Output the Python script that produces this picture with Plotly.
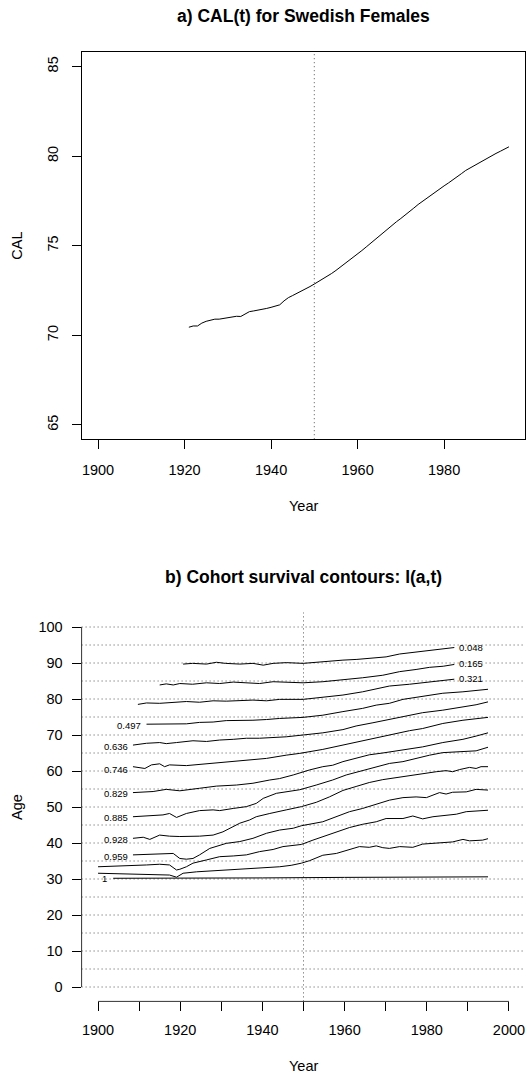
import plotly.graph_objects as go

# ---------------- data ----------------
cal_years = list(range(1921, 1996))
cal_values = [
    70.45, 70.52, 70.52, 70.68, 70.78, 70.86, 70.90, 70.90, 70.95, 70.98,
    71.04, 71.06, 71.05, 71.20, 71.32, 71.36, 71.40, 71.43, 71.50, 71.56,
    71.62, 71.70, 71.92, 72.10, 72.22, 72.34, 72.45, 72.57, 72.72, 72.86,
    73.00, 73.14, 73.30, 73.45, 73.62, 73.80, 73.97, 74.15, 74.35, 74.54,
    74.73, 74.93, 75.13, 75.38, 75.58, 75.78, 75.97, 76.15, 76.34, 76.52,
    76.73, 76.92, 77.10, 77.30, 77.48, 77.67, 77.85, 78.02, 78.18, 78.34,
    78.50, 78.66, 78.84, 79.02, 79.20, 79.34, 79.48, 79.62, 79.75, 79.90,
    80.04, 80.15, 80.27, 80.40, 80.52,
]

# cohort survival contour lines l(a,t): year / age pairs
c048_year = [1920.7, 1923, 1926.4, 1928.8, 1931, 1934.5, 1937.7, 1940.2, 1942.6, 1945.8, 1949.9,
             1954.7, 1959.6, 1963, 1966, 1970.1, 1973.4, 1977.4, 1980.7, 1984, 1986.7]
c048_age = [89.7, 89.9, 89.7, 90.2, 89.9, 89.7, 89.9, 89.4, 89.9, 90.1, 89.9,
            90.4, 90.8, 91.0, 91.3, 91.7, 92.5, 93.1, 93.6, 93.9, 94.3]

c165_year = [1915, 1916.6, 1918.3, 1919.9, 1923, 1926.4, 1929.6, 1932.9, 1936, 1939.3, 1942.6,
             1945.8, 1949.9, 1954.7, 1959.6, 1964.4, 1969.3, 1973.4, 1977.4, 1980.7, 1984, 1986.7]
c165_age = [83.9, 84.2, 83.9, 84.3, 84.1, 84.5, 84.3, 84.7, 84.5, 84.3, 84.8,
            84.6, 84.5, 84.8, 85.3, 85.9, 86.6, 87.6, 88.2, 88.8, 89.1, 89.6]

c321_year = [1909.7, 1911.8, 1915, 1918.3, 1921.5, 1924.7, 1928, 1931.2, 1934.5, 1937.7, 1941,
             1944.2, 1949.9, 1954.7, 1959.6, 1964.4, 1967.7, 1970.9, 1975.8, 1979, 1982.3, 1986.7]
c321_age = [78.5, 78.9, 78.8, 79.1, 79.3, 79.1, 79.5, 79.4, 79.5, 79.7, 79.5,
            79.9, 79.9, 80.4, 81.1, 82.0, 82.9, 83.6, 84.1, 84.5, 85.1, 85.5]

c497_year = [1911.8, 1915, 1918.3, 1921.5, 1924.7, 1928, 1931.2, 1934.5, 1937.7, 1941, 1944.2,
             1949.9, 1954.7, 1959.6, 1964.4, 1967.7, 1970.9, 1974.2, 1979, 1983.9, 1988.8, 1994.9]
c497_age = [73.0, 73.0, 73.2, 73.1, 73.5, 73.6, 74.0, 74.0, 74.1, 74.3, 74.6,
            74.9, 75.5, 76.5, 77.4, 78.3, 78.8, 79.9, 80.8, 81.6, 82.0, 82.7]

c636_year = [1908.5, 1911.8, 1915, 1916.6, 1919.1, 1921.5, 1923.1, 1926.4, 1929.6, 1932.9, 1936.1,
             1939.3, 1942.6, 1945.8, 1949.9, 1954.7, 1959.6, 1962.8, 1966.9, 1970.9, 1975.8, 1979,
             1983.9, 1988.8, 1992, 1994.9]
c636_age = [67.2, 67.7, 67.9, 67.6, 67.9, 68.1, 68.4, 68.2, 68.6, 68.8, 69.1,
            69.1, 69.3, 69.5, 70.0, 70.6, 71.5, 72.5, 73.4, 74.3, 75.3, 76.2,
            76.9, 77.7, 78.4, 79.2]

c746_year = [1908.5, 1911.4, 1913, 1915, 1916.2, 1917.4, 1921.5, 1924.7, 1928, 1932.9, 1936.1,
             1941, 1945.8, 1949.1, 1954.7, 1959.6, 1962.8, 1966.9, 1970.9, 1975.8, 1979, 1983.9,
             1988.8, 1992, 1994.9]
c746_age = [61.2, 60.7, 61.7, 62.0, 61.2, 61.7, 61.5, 61.8, 62.1, 62.6, 62.9,
            63.5, 64.4, 64.9, 66.0, 67.2, 68.1, 69.1, 70.0, 71.2, 71.8, 73.2,
            74.1, 74.5, 74.9]

c829_year = [1908.5, 1913.4, 1916.6, 1919.9, 1924.7, 1928.8, 1933.7, 1937.7, 1941.8, 1944.2, 1947.5,
             1949.9, 1951.5, 1954.7, 1957.1, 1959.6, 1962.8, 1966, 1969.3, 1972.5, 1975.8, 1979,
             1983.9, 1988.8, 1992, 1994.9]
c829_age = [54.0, 54.3, 54.9, 54.5, 55.2, 55.8, 56.1, 56.6, 57.5, 57.9, 58.9,
            59.8, 60.3, 61.2, 61.6, 62.6, 63.5, 64.5, 65.0, 65.5, 66.0, 66.7,
            67.9, 68.8, 69.7, 70.6]

c885_year = [1908.5, 1915.8, 1917.4, 1919.1, 1921.5, 1924.7, 1928, 1929.6, 1932.9, 1936.1, 1938.5,
             1940.2, 1943.4, 1949.1, 1953.1, 1957.1, 1960.4, 1965.3, 1967.7, 1970.9, 1974.2,
             1977.4, 1980.7, 1983.9, 1988.8, 1992, 1994.9]
c885_age = [47.3, 47.8, 48.2, 47.1, 48.2, 49.0, 49.2, 49.0, 49.6, 50.1, 51.0,
            52.4, 53.8, 54.8, 56.1, 57.5, 58.9, 60.3, 61.0, 62.1, 62.6,
            63.5, 64.4, 65.1, 65.5, 65.6, 66.6]

c928_year = [1908.5, 1911, 1912.6, 1915, 1917.4, 1919.9, 1924.7, 1928, 1930.4, 1932.9, 1934.5,
             1936.9, 1938.5, 1941.8, 1944.2, 1945.8, 1949.5, 1953.1, 1956.3, 1959.6, 1962.8,
             1966, 1969.3, 1974.2, 1977.4, 1982.3, 1984.7, 1986.3, 1988, 1990.4, 1992, 1993.2, 1994.9]
c928_age = [41.3, 41.6, 41.0, 42.2, 41.9, 41.8, 41.9, 42.2, 43.1, 44.5, 45.5,
            46.4, 47.3, 48.2, 48.7, 49.2, 50.1, 51.3, 52.8, 54.6, 55.7,
            56.8, 57.6, 58.5, 59.1, 59.8, 60.1, 59.8, 60.4, 61.0, 60.7, 61.2, 61.2]

c959_year = [1908.5, 1915, 1918.3, 1919.9, 1921.5, 1923.1, 1924.7, 1927.2, 1929.6, 1931.2, 1934.5,
             1937.7, 1941, 1944.2, 1947.5, 1949.5, 1954.7, 1958, 1961.2, 1964.4, 1967.7, 1970.9,
             1974.2, 1977.4, 1979.9, 1981.5, 1983.1, 1984.7, 1986.3, 1989.6, 1992, 1994.9]
c959_age = [36.7, 37.1, 37.1, 35.7, 35.5, 35.7, 36.7, 38.5, 39.4, 39.9, 40.4,
            41.3, 42.7, 43.6, 44.1, 44.8, 45.9, 47.3, 48.7, 49.6, 50.8, 51.9,
            52.6, 52.8, 52.6, 53.3, 54.0, 53.6, 54.1, 54.2, 54.9, 54.7]

cK_year = [1900, 1907.7, 1911.8, 1915, 1917.4, 1919.1, 1919.9, 1921.5, 1923.1, 1926.4, 1929.6,
           1932.9, 1936.1, 1939.3, 1942.6, 1945, 1949.5, 1952.3, 1954.7, 1958, 1961.2, 1964.4,
           1967.7, 1970.1, 1974.2, 1976.6, 1979, 1981.5, 1984.7, 1987.2, 1989.6, 1992, 1994.9]
cK_age = [33.4, 33.6, 33.9, 34.1, 33.9, 32.5, 32.7, 33.4, 34.4, 35.3, 36.2,
          36.4, 36.7, 37.6, 38.2, 39.0, 39.6, 40.8, 41.7, 43.1, 44.3, 45.2,
          45.9, 46.8, 46.8, 47.5, 46.7, 47.3, 47.8, 48.0, 48.7, 48.9, 49.1]

cL_year = [1900, 1911.8, 1917.4, 1919.1, 1920.7, 1924, 1928, 1932, 1936.1, 1940.2, 1944.2,
           1947, 1949.5, 1951.5, 1954.7, 1958, 1960.4, 1963.6, 1966, 1967.7, 1969.3, 1970.9,
           1973.4, 1976.6, 1979, 1983.1, 1986.3, 1988.8, 1990.4, 1993.6, 1994.9]
cL_age = [31.6, 31.4, 31.1, 30.5, 31.6, 32.0, 32.3, 32.5, 32.7, 33.2, 33.4,
          33.8, 34.4, 35.1, 36.6, 37.1, 38.0, 39.0, 38.8, 39.2, 38.7, 38.5,
          39.0, 38.8, 39.7, 40.1, 40.3, 41.0, 40.6, 40.8, 41.2]

c1_year = [1903.7, 1920, 1940, 1960, 1980, 1994.9]
c1_age = [30.2, 30.2, 30.3, 30.45, 30.55, 30.6]

contour_labels = ["0.048", "0.165", "0.321", "0.497", "0.636", "0.746",
                  "0.829", "0.885", "0.928", "0.959", "", "", "1"]

x_ticks_top = [1900, 1920, 1940, 1960, 1980]
y_ticks_top = [65, 70, 75, 80, 85]
x_ticks_bottom = list(range(1900, 2001, 10))
x_ticktext_bottom = [str(v) if v % 20 == 0 else "" for v in x_ticks_bottom]
y_ticks_bottom = list(range(0, 101, 10))
grid_ages = list(range(0, 101, 5))
ref_year = 1950

# ---------------- layout helpers ----------------
W, H = 528, 1074
FONT = "Liberation Sans, Arial, Helvetica, sans-serif"
L_PX, R_PX = 81.6, 525.4
T1, B1 = 52.2, 439.2
T2, B2 = 612.6, 1001.4


def fx(px):
    return px / W


def fy(py):
    return 1 - py / H


contours = [
    (c048_year, c048_age), (c165_year, c165_age), (c321_year, c321_age),
    (c497_year, c497_age), (c636_year, c636_age), (c746_year, c746_age),
    (c829_year, c829_age), (c885_year, c885_age), (c928_year, c928_age),
    (c959_year, c959_age), (cK_year, cK_age), (cL_year, cL_age), (c1_year, c1_age),
]
# label anchor placement (year, age) beside each contour
label_anchor = [
    (1990.8, 94.4), (1990.8, 89.8), (1990.8, 85.7),
    (1907.5, 72.7), (1904.3, 66.8), (1904.3, 60.4),
    (1904.3, 53.7), (1904.3, 47.2), (1904.3, 40.9),
    (1904.3, 36.3), None, None, (1901.6, 30.1),
]

fig = go.Figure()

fig.add_trace(go.Scatter(x=cal_years, y=cal_values, mode="lines",
                         line=dict(color="black", width=1),
                         xaxis="x", yaxis="y", showlegend=False, hoverinfo="skip"))

for (yrs, ages) in contours:
    fig.add_trace(go.Scatter(x=yrs, y=ages, mode="lines",
                             line=dict(color="black", width=1),
                             xaxis="x2", yaxis="y2", showlegend=False, hoverinfo="skip"))

shapes = []
DOT = "1px,3px"
GRIDC = "#555555"
# top panel reference year
shapes.append(dict(type="line", xref="x", yref="y domain", x0=ref_year, x1=ref_year, y0=0, y1=1,
                   line=dict(color=GRIDC, width=1, dash=DOT), layer="below"))
# bottom panel grid
for a in grid_ages:
    shapes.append(dict(type="line", xref="x2 domain", yref="y2", x0=0, x1=1, y0=a, y1=a,
                       line=dict(color=GRIDC, width=1, dash=DOT), layer="below"))
shapes.append(dict(type="line", xref="x2", yref="y2 domain", x0=ref_year, x1=ref_year, y0=0, y1=1,
                   line=dict(color=GRIDC, width=1, dash=DOT), layer="below"))
# bottom panel axis lines (span tick range only)
shapes.append(dict(type="line", xref="x2 domain", yref="y2", x0=0, x1=0,
                   y0=y_ticks_bottom[0], y1=y_ticks_bottom[-1], line=dict(color="#333333", width=1)))
shapes.append(dict(type="line", xref="x2", yref="y2 domain", x0=x_ticks_bottom[0], x1=x_ticks_bottom[-1],
                   y0=0, y1=0, line=dict(color="#333333", width=1)))

annotations = []
for lab, anc in zip(contour_labels, label_anchor):
    if anc is None or not lab:
        continue
    annotations.append(dict(x=anc[0], y=anc[1], xref="x2", yref="y2", text=lab, showarrow=False,
                            font=dict(family=FONT, size=9.5, color="black"),
                            xanchor="center", yanchor="middle"))

cx = fx((L_PX + R_PX) / 2)
annotations += [
    dict(x=cx, y=fy(15.5), xref="paper", yref="paper", text="<b>a) CAL(t) for Swedish Females</b>",
         showarrow=False, font=dict(family=FONT, size=17.5, color="black"), xanchor="center", yanchor="middle"),
    dict(x=cx, y=fy(506), xref="paper", yref="paper", text="Year",
         showarrow=False, font=dict(family=FONT, size=14.5, color="black"), xanchor="center", yanchor="middle"),
    dict(x=fx(17), y=fy((T1 + B1) / 2), xref="paper", yref="paper", text="CAL", textangle=-90,
         showarrow=False, font=dict(family=FONT, size=14.5, color="black"), xanchor="center", yanchor="middle"),
    dict(x=cx, y=fy(577), xref="paper", yref="paper", text="<b>b) Cohort survival contours: l(a,t)</b>",
         showarrow=False, font=dict(family=FONT, size=17.5, color="black"), xanchor="center", yanchor="middle"),
    dict(x=fx(17), y=fy(807), xref="paper", yref="paper", text="Age", textangle=-90,
         showarrow=False, font=dict(family=FONT, size=14.5, color="black"), xanchor="center", yanchor="middle"),
    dict(x=cx, y=fy(1066), xref="paper", yref="paper", text="Year",
         showarrow=False, font=dict(family=FONT, size=14.5, color="black"), xanchor="center", yanchor="middle"),
]

tickfont = dict(family=FONT, size=14.5, color="black")
common = dict(showgrid=False, zeroline=False, ticks="outside", ticklen=9, tickwidth=1,
              tickcolor="black", tickfont=tickfont, fixedrange=True)

fig.update_layout(
    width=W, height=H, autosize=False,
    margin=dict(l=0, r=0, t=0, b=0, pad=0),
    paper_bgcolor="white", plot_bgcolor="white",
    showlegend=False,
    hovermode=False,
    xaxis=dict(domain=[fx(L_PX), fx(R_PX)], range=[1896.2, 1998.8], anchor="y",
               tickmode="array", tickvals=x_ticks_top, showline=True, mirror=True,
               linecolor="black", linewidth=1, ticklabelstandoff=8, **common),
    yaxis=dict(domain=[fy(B1), fy(T1)], range=[64.2, 85.8], anchor="x",
               tickmode="array", tickvals=y_ticks_top, tickangle=-90, showline=True, mirror=True,
               linecolor="black", linewidth=1, ticklabelstandoff=8, **common),
    xaxis2=dict(domain=[fx(L_PX), fx(R_PX)], range=[1896, 2004], anchor="y2",
                tickmode="array", tickvals=x_ticks_bottom, ticktext=x_ticktext_bottom,
                showline=False, ticklabelstandoff=6, **common),
    yaxis2=dict(domain=[fy(B2), fy(T2)], range=[-4, 104], anchor="x2",
                tickmode="array", tickvals=y_ticks_bottom, showline=False,
                ticklabelstandoff=6, **common),
    shapes=shapes,
    annotations=annotations,
)

fig.write_html(
    "out.html",
    config={"displayModeBar": False, "staticPlot": True},
    post_script="document.body.style.margin='0';document.body.style.overflow='hidden';",
)
